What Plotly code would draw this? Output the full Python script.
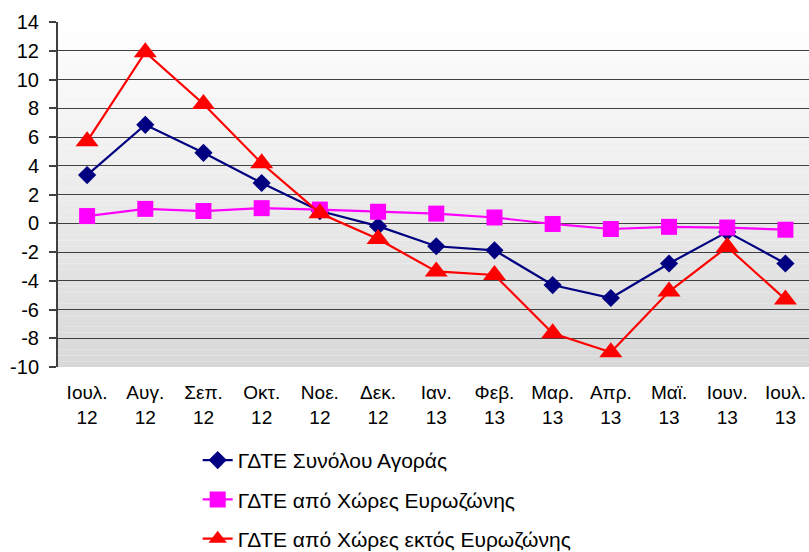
import plotly.graph_objects as go

months = ["Ιουλ.<br>12", "Αυγ.<br>12", "Σεπ.<br>12", "Οκτ.<br>12", "Νοε.<br>12", "Δεκ.<br>12",
          "Ιαν.<br>13", "Φεβ.<br>13", "Μαρ.<br>13", "Απρ.<br>13", "Μαϊ.<br>13", "Ιουν.<br>13", "Ιουλ.<br>13"]
total = [3.35, 6.85, 4.9, 2.8, 0.85, -0.2, -1.6, -1.88, -4.3, -5.2, -2.8, -0.6, -2.8]
euro = [0.5, 1.0, 0.85, 1.05, 0.95, 0.8, 0.67, 0.4, -0.05, -0.4, -0.25, -0.3, -0.45]
noneuro = [5.7, 11.9, 8.3, 4.17, 0.7, -1.1, -3.35, -3.6, -7.65, -8.97, -4.75, -1.65, -5.3]
yticks = list(range(-10, 16, 2))
yticklabels = [str(v) for v in yticks]

names = ["ΓΔΤΕ Συνόλου Αγοράς", "ΓΔΤΕ από Χώρες Ευρωζώνης", "ΓΔΤΕ από Χώρες εκτός Ευρωζώνης"]

fig = go.Figure()
fig.add_trace(go.Scatter(x=months, y=total, name=names[0], legendgroup="a",
                         mode="lines+markers", line=dict(color="#000080", width=2.2),
                         marker=dict(symbol="diamond", size=14, color="#000080"), cliponaxis=False))
fig.add_trace(go.Scatter(x=months, y=euro, name=names[1], legendgroup="b",
                         mode="lines+markers", line=dict(color="#FF00FF", width=2.2),
                         marker=dict(symbol="square", size=16, color="#FF00FF"), cliponaxis=False))
fig.add_trace(go.Scatter(x=months, y=noneuro, name=names[2], legendgroup="c",
                         mode="lines+markers", line=dict(color="#FF0000", width=2.2),
                         marker=dict(symbol="triangle-up", size=20, color="#FF0000"), cliponaxis=False))

# vertical gradient background for the plot area
n = 60
shapes = []
for i in range(n):
    t = (i + 0.5) / n  # 0 bottom -> 1 top
    g = int(round(216 + (255 - 216) * t))
    shapes.append(dict(type="rect", xref="paper", yref="paper", layer="below",
                       x0=0, x1=1, y0=i / n, y1=(i + 1) / n,
                       fillcolor=f"rgb({g},{g},{g})", line=dict(width=0)))

fig.update_layout(
    width=809, height=552,
    margin=dict(l=58, r=0, t=22, b=185),
    paper_bgcolor="white", plot_bgcolor="rgba(0,0,0,0)",
    font=dict(family="Liberation Sans, Arial, sans-serif", color="black"),
    shapes=shapes,
    showlegend=True,
    legend=dict(x=0.186, xanchor="left", xref="paper", y=0.203, yanchor="top", yref="container",
                font=dict(size=21), traceorder="grouped", tracegroupgap=9,
                bgcolor="rgba(0,0,0,0)"),
)
fig.update_xaxes(type="category", range=[-0.5, 12.405], showgrid=False, automargin=False,
                 showline=False, ticks="", tickfont=dict(size=19), zeroline=False,
                 ticklabelstandoff=12)
fig.update_yaxes(range=[-10, 14], tickvals=yticks, ticktext=yticklabels, showgrid=True,
                 gridcolor="#404040", gridwidth=1.4, automargin=False,
                 showline=True, linecolor="#404040", linewidth=2, ticks="outside", ticklen=7,
                 tickcolor="#404040", tickwidth=1.5, tickfont=dict(size=20), zeroline=False,
                 ticklabelstandoff=6)
fig.write_html("out.html", config={"displayModeBar": False},
               post_script="document.body.style.margin='0';document.body.style.overflow='hidden';")
